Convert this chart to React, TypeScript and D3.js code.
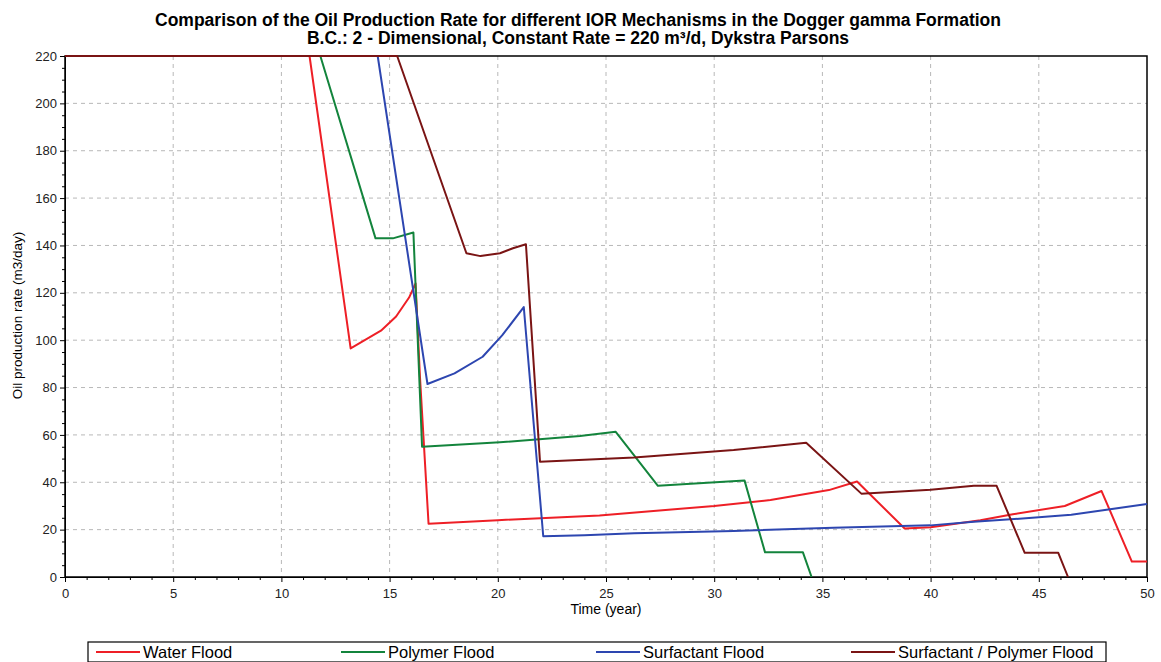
import React, { useEffect, useRef } from 'react';
import * as d3 from 'd3';

const titleLines = [
  'Comparison of the Oil Production Rate for different IOR Mechanisms in the Dogger gamma Formation',
  'B.C.: 2 - Dimensional, Constant Rate = 220 m\u00b3/d, Dykstra Parsons',
];

const seriesNames = ['Water Flood', 'Polymer Flood', 'Surfactant Flood', 'Surfactant / Polymer Flood'];
const seriesColors = ['#ee1f26', '#13843c', '#2d46b0', '#7a1414'];

// time (year) / rate (m3/day)
const waterT = [0, 11.3, 13.2, 14.6, 15.3, 15.9, 16.2, 16.4, 16.8, 20, 24.7, 30, 32.6, 35.3, 36.6, 38.8, 40, 42.3, 43.8, 46.2, 47.9, 49.3, 50];
const waterQ = [220, 220, 96.5, 104, 110, 118, 124, 85, 22.5, 24, 26, 30, 32.5, 36.7, 40.3, 20.5, 21, 24, 26.5, 30, 36.3, 6.5, 6.5];

const polymerT = [0, 11.8, 14.35, 15.15, 16.1, 16.5, 20.1, 23.8, 25.45, 27.4, 31.4, 32.35, 34.1, 34.5];
const polymerQ = [220, 220, 143, 143, 145.5, 55, 56.9, 59.5, 61.3, 38.5, 40.8, 10.4, 10.4, 0];

const surfT = [0, 14.45, 16.75, 18, 19.3, 20.2, 21.2, 22.1, 24, 26.3, 30.9, 35.5, 40, 42, 45, 46.5, 50];
const surfQ = [220, 220, 81.5, 86, 93, 102, 114, 17.2, 17.6, 18.5, 19.4, 20.8, 21.8, 23.3, 25.2, 26.3, 30.8];

const spT = [0, 15.35, 18.55, 19.2, 20.1, 20.7, 21.3, 21.95, 26.3, 30.9, 34.25, 36.8, 40, 42, 43.05, 44.35, 45.9, 46.35];
const spQ = [220, 220, 136.7, 135.5, 136.7, 138.8, 140.5, 48.7, 50.5, 53.6, 56.7, 35.2, 36.8, 38.5, 38.5, 10.2, 10.2, 0];

const xTicks = [0, 5, 10, 15, 20, 25, 30, 35, 40, 45, 50];
const yTicks = [0, 20, 40, 60, 80, 100, 120, 140, 160, 180, 200, 220];

const App = () => {
  const ref = useRef<SVGSVGElement | null>(null);

  useEffect(() => {
    const svg = d3.select(ref.current);
    svg.selectAll('*').remove();

    const left = 65, right = 1147, top = 56, bottom = 577;
    const font = 'Arial, "Liberation Sans", sans-serif';

    const x = d3.scaleLinear().domain([0, 50]).range([left, right]);
    const y = d3.scaleLinear().domain([0, 220]).range([bottom, top]);

    svg.append('rect').attr('width', 1161).attr('height', 662).attr('fill', 'white');

    // titles
    titleLines.forEach((t, i) => {
      svg.append('text')
        .attr('x', 578).attr('y', 26 + i * 18)
        .attr('text-anchor', 'middle')
        .style('font-family', font).style('font-weight', 'bold').style('font-size', '17.5px')
        .text(t);
    });

    // grid
    svg.append('g').selectAll('line')
      .data(xTicks.slice(1, -1))
      .join('line')
      .attr('x1', d => x(d)).attr('x2', d => x(d))
      .attr('y1', top).attr('y2', bottom)
      .attr('stroke', '#b8b8b8').attr('stroke-dasharray', '4,4');
    svg.append('g').selectAll('line')
      .data(yTicks.slice(1, -1))
      .join('line')
      .attr('x1', left).attr('x2', right)
      .attr('y1', d => y(d)).attr('y2', d => y(d))
      .attr('stroke', '#b8b8b8').attr('stroke-dasharray', '4,4');

    // axes
    const xAxis = svg.append('g').attr('transform', `translate(0,${bottom})`)
      .call(d3.axisBottom(x).tickValues(xTicks).tickSize(5).tickSizeOuter(0).tickFormat(d3.format('d')));
    svg.append('g').attr('transform', `translate(0,${bottom})`)
      .call(d3.axisBottom(x).tickValues(d3.range(0, 51).filter(d => d % 5 !== 0)).tickSize(3).tickFormat(() => ''))
      .call(g => g.select('.domain').remove());
    const yAxis = svg.append('g').attr('transform', `translate(${left},0)`)
      .call(d3.axisLeft(y).tickValues(yTicks).tickSize(5).tickSizeOuter(0));
    svg.append('g').attr('transform', `translate(${left},0)`)
      .call(d3.axisLeft(y).tickValues(d3.range(0, 221, 5).filter(d => d % 20 !== 0)).tickSize(3).tickFormat(() => ''))
      .call(g => g.select('.domain').remove());
    [xAxis, yAxis].forEach(a => a.selectAll('text').style('font-family', font).style('font-size', '13px').attr('fill', '#222'));
    xAxis.selectAll('text').attr('dy', '1.0em');

    // frame
    svg.append('rect')
      .attr('x', left).attr('y', top).attr('width', right - left).attr('height', bottom - top)
      .attr('fill', 'none').attr('stroke', '#000').attr('stroke-width', 1.5);

    svg.append('text')
      .attr('x', x(25)).attr('y', 614).attr('text-anchor', 'middle')
      .style('font-family', font).style('font-size', '14px')
      .text('Time (year)');
    svg.append('text')
      .attr('transform', `translate(22,${(top + bottom) / 2 - 1}) rotate(-90)`)
      .attr('text-anchor', 'middle')
      .style('font-family', font).style('font-size', '13.5px')
      .text('Oil production rate (m3/day)');

    const series = [[waterT, waterQ], [polymerT, polymerQ], [surfT, surfQ], [spT, spQ]];
    const line = d3.line<[number, number]>().x(d => x(d[0])).y(d => y(d[1]));

    series.forEach(([ts, qs], i) => {
      svg.append('path')
        .datum(d3.zip(ts, qs) as [number, number][])
        .attr('fill', 'none')
        .attr('stroke', seriesColors[i])
        .attr('stroke-width', 2)
        .attr('stroke-linejoin', 'round')
        .attr('d', line);
    });

    // legend
    const lg = svg.append('g');
    lg.append('rect')
      .attr('x', 88).attr('y', 642).attr('width', 1018).attr('height', 20)
      .attr('fill', 'white').attr('stroke', '#000').attr('stroke-width', 1.2);
    const lx = [96, 341, 596, 851];
    seriesNames.forEach((name, i) => {
      lg.append('line')
        .attr('x1', lx[i]).attr('x2', lx[i] + 44)
        .attr('y1', 652).attr('y2', 652)
        .attr('stroke', seriesColors[i]).attr('stroke-width', 2);
      lg.append('text')
        .attr('x', lx[i] + 47).attr('y', 658)
        .style('font-family', font).style('font-size', '16.5px')
        .text(name);
    });
  }, []);

  return (
    <div style={{ position: 'absolute', left: 0, top: 0 }}>
      <svg ref={ref} width={1161} height={662} style={{ display: 'block' }} />
    </div>
  );
};

export default App;
